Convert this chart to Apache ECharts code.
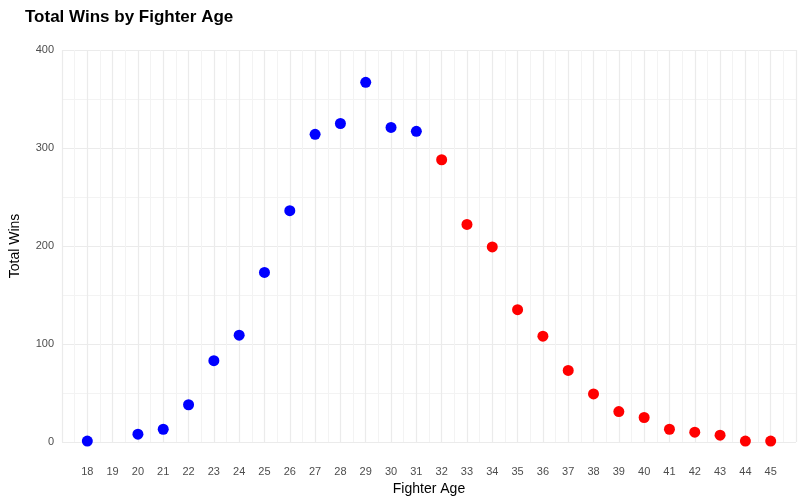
<!DOCTYPE html>
<html><head><meta charset="utf-8">
<script src="https://cdn.jsdelivr.net/npm/echarts@6/dist/echarts.min.js"></script>
<style>html,body{margin:0;padding:0;background:#fff}#c{width:811px;height:504px}</style>
</head><body><div id="c"></div>
<script>
const ages = [18,20,21,22,23,24,25,26,27,28,29,30,31,32,33,34,35,36,37,38,39,40,41,42,43,44,45];
const wins = [1,8,13,38,83,109,173,236,314,325,367,321,317,288,222,199,135,108,73,49,31,25,13,10,7,1,1];
const cutoffAge = 32;
const blue = [], red = [];
ages.forEach((a,i)=>{ (a<cutoffAge?blue:red).push([a,wins[i]]); });
const grid = {lineStyle:{color:'#ebebeb',width:1}};
const chart = echarts.init(document.getElementById('c'));
chart.setOption({
  animation:false,
  title:{text:'Total Wins by Fighter Age',left:20,top:4,textStyle:{fontFamily:'Liberation Sans, Arial',fontWeight:'bold',fontSize:17,color:'#000'}},
  grid:{left:60,right:15,top:50,bottom:62},
  xAxis:{type:'value',min:17,max:46,interval:1,name:'Fighter Age',nameLocation:'middle',nameGap:38,
    nameTextStyle:{fontSize:14,color:'#000',fontFamily:'Liberation Sans, Arial'},
    axisLine:{show:false},axisTick:{show:false},
    axisLabel:{color:'#4d4d4d',fontSize:11,margin:24,formatter:v=>(v>=18&&v<=45)?String(v):''},
    splitLine:{show:true,lineStyle:{color:'#ebebeb',width:1.2}},
    minorTick:{show:false,splitNumber:2},minorSplitLine:{show:true,lineStyle:{color:'#f3f3f3'}}},
  yAxis:{type:'value',min:0,max:400,interval:100,name:'Total Wins',nameLocation:'middle',nameGap:40,
    nameTextStyle:{fontSize:14,color:'#000',fontFamily:'Liberation Sans, Arial'},
    axisLine:{show:false},axisTick:{show:false},
    axisLabel:{color:'#4d4d4d',fontSize:11},
    splitLine:{show:true,lineStyle:{color:'#ebebeb',width:1.2}},
    minorTick:{show:false,splitNumber:2},minorSplitLine:{show:true,lineStyle:{color:'#f3f3f3'}}},
  series:[
    {type:'scatter',data:blue,symbolSize:11,itemStyle:{color:'#0000ff',opacity:1}},
    {type:'scatter',data:red,symbolSize:11,itemStyle:{color:'#ff0000',opacity:1}}
  ]
});
</script></body></html>
